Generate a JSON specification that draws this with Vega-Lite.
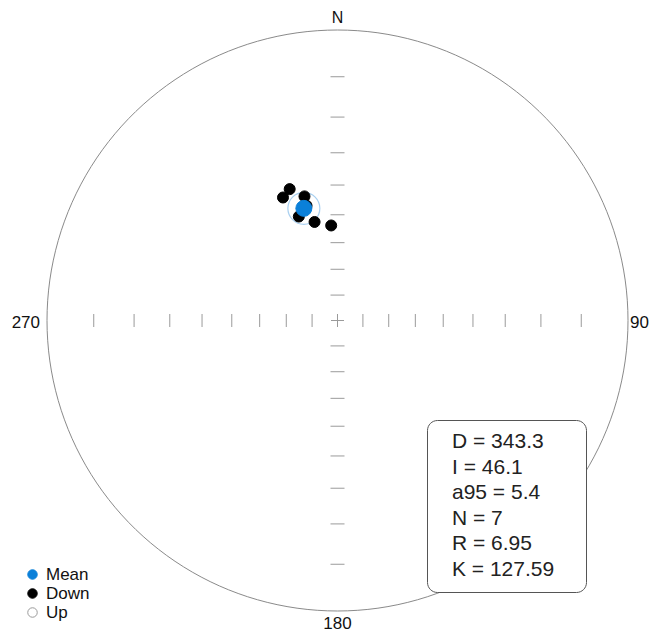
{
  "$schema": "https://vega.github.io/schema/vega-lite/v6.json",
  "width": 581,
  "height": 581,
  "autosize": {"type": "none"},
  "padding": {"left": 47, "top": 30, "right": 22, "bottom": 23},
  "background": "white",
  "config": {"view": {"stroke": null}, "font": "Liberation Sans"},
  "projection": {"type": "stereographic", "rotate": [0, -90, 0], "reflectY": true, "clipAngle": 90},
  "datasets": {
    "directions": [
      {"D": 340.0, "I": 38.6, "type": "Down"},
      {"D": 336.1, "I": 40.3, "type": "Down"},
      {"D": 345.1, "I": 42.3, "type": "Down"},
      {"D": 339.6, "I": 48.2, "type": "Down"},
      {"D": 346.9, "I": 51.6, "type": "Down"},
      {"D": 356.2, "I": 53.7, "type": "Down"},
      {"D": 344.9, "I": 45.5, "type": "Down"}
    ],
    "mean": [{"D": 343.3, "I": 46.1, "a95": 5.4, "type": "Mean"}],
    "ticks": [
      {"D": 0, "I": 10}, {"D": 0, "I": 20}, {"D": 0, "I": 30}, {"D": 0, "I": 40},
      {"D": 0, "I": 50}, {"D": 0, "I": 60}, {"D": 0, "I": 70}, {"D": 0, "I": 80},
      {"D": 180, "I": 10}, {"D": 180, "I": 20}, {"D": 180, "I": 30}, {"D": 180, "I": 40},
      {"D": 180, "I": 50}, {"D": 180, "I": 60}, {"D": 180, "I": 70}, {"D": 180, "I": 80},
      {"D": 90, "I": 10}, {"D": 90, "I": 20}, {"D": 90, "I": 30}, {"D": 90, "I": 40},
      {"D": 90, "I": 50}, {"D": 90, "I": 60}, {"D": 90, "I": 70}, {"D": 90, "I": 80},
      {"D": 270, "I": 10}, {"D": 270, "I": 20}, {"D": 270, "I": 30}, {"D": 270, "I": 40},
      {"D": 270, "I": 50}, {"D": 270, "I": 60}, {"D": 270, "I": 70}, {"D": 270, "I": 80}
    ],
    "center": [{"D": 0, "I": 90}],
    "labels": [
      {"D": 0, "I": 0, "label": "N"},
      {"D": 90, "I": 0, "label": "90"},
      {"D": 180, "I": 0, "label": "180"},
      {"D": 270, "I": 0, "label": "270"}
    ],
    "stats": [
      {"label": "D = 343.3"},
      {"label": "I = 46.1"},
      {"label": "a95 = 5.4"},
      {"label": "N = 7"},
      {"label": "R = 6.95"},
      {"label": "K = 127.59"}
    ]
  },
  "layer": [
    {
      "data": {"sphere": true},
      "mark": {"type": "geoshape", "filled": false, "stroke": "#8a8a8a", "strokeWidth": 1}
    },
    {
      "data": {"name": "ticks"},
      "transform": [{"filter": "datum.D == 0 || datum.D == 180"}],
      "mark": {"type": "point", "shape": "M-1,0L1,0", "size": 196, "filled": false, "stroke": "#9a9a9a", "strokeWidth": 1, "opacity": 1},
      "encoding": {
        "longitude": {"field": "D", "type": "quantitative"},
        "latitude": {"field": "I", "type": "quantitative"}
      }
    },
    {
      "data": {"name": "ticks"},
      "transform": [{"filter": "datum.D == 90 || datum.D == 270"}],
      "mark": {"type": "point", "shape": "M0,-1L0,1", "size": 169, "filled": false, "stroke": "#9a9a9a", "strokeWidth": 1, "opacity": 1},
      "encoding": {
        "longitude": {"field": "D", "type": "quantitative"},
        "latitude": {"field": "I", "type": "quantitative"}
      }
    },
    {
      "data": {"name": "center"},
      "mark": {"type": "point", "shape": "M-1,0L1,0M0,-1L0,1", "size": 169, "filled": false, "stroke": "#9a9a9a", "strokeWidth": 1, "opacity": 1},
      "encoding": {
        "longitude": {"field": "D", "type": "quantitative"},
        "latitude": {"field": "I", "type": "quantitative"}
      }
    },
    {
      "data": {"name": "mean"},
      "mark": {"type": "point", "shape": "circle", "size": 1024, "filled": false, "stroke": "#a9d0f0", "strokeWidth": 1.2, "opacity": 1},
      "encoding": {
        "longitude": {"field": "D", "type": "quantitative"},
        "latitude": {"field": "I", "type": "quantitative"}
      }
    },
    {
      "data": {"name": "directions"},
      "mark": {"type": "point", "shape": "circle", "size": 121, "filled": true, "opacity": 1, "strokeWidth": 1},
      "encoding": {
        "longitude": {"field": "D", "type": "quantitative"},
        "latitude": {"field": "I", "type": "quantitative"},
        "fill": {
          "field": "type", "type": "nominal",
          "scale": {"domain": ["Mean", "Down", "Up"], "range": ["#0b80d9", "#000000", "#ffffff"]},
          "legend": {"orient": "none", "legendX": -23, "legendY": 536, "title": null, "labelFontSize": 17, "labelColor": "#111", "symbolSize": 90, "symbolStrokeWidth": 1, "labelOffset": 5, "rowPadding": 1, "padding": 0, "symbolType": "circle"}
        },
        "stroke": {
          "field": "type", "type": "nominal",
          "scale": {"domain": ["Mean", "Down", "Up"], "range": ["#0b80d9", "#000000", "#9a9a9a"]},
          "legend": {"orient": "none", "legendX": -23, "legendY": 536, "title": null, "labelFontSize": 17, "labelColor": "#111", "symbolSize": 90, "symbolStrokeWidth": 1, "labelOffset": 5, "rowPadding": 1, "padding": 0, "symbolType": "circle"}
        }
      }
    },
    {
      "data": {"name": "mean"},
      "mark": {"type": "point", "shape": "circle", "size": 256, "filled": true, "opacity": 1, "strokeWidth": 1},
      "encoding": {
        "longitude": {"field": "D", "type": "quantitative"},
        "latitude": {"field": "I", "type": "quantitative"},
        "fill": {"field": "type", "type": "nominal"},
        "stroke": {"field": "type", "type": "nominal"}
      }
    },
    {
      "data": {"name": "labels"},
      "transform": [{"filter": "datum.label == 'N'"}],
      "mark": {"type": "text", "fontSize": 16, "color": "#111", "align": "center", "baseline": "middle", "dy": -12.5},
      "encoding": {
        "longitude": {"field": "D", "type": "quantitative"},
        "latitude": {"field": "I", "type": "quantitative"},
        "text": {"field": "label"}
      }
    },
    {
      "data": {"name": "labels"},
      "transform": [{"filter": "datum.label == '180'"}],
      "mark": {"type": "text", "fontSize": 17, "color": "#111", "align": "center", "baseline": "middle", "dy": 13},
      "encoding": {
        "longitude": {"field": "D", "type": "quantitative"},
        "latitude": {"field": "I", "type": "quantitative"},
        "text": {"field": "label"}
      }
    },
    {
      "data": {"name": "labels"},
      "transform": [{"filter": "datum.label == '270'"}],
      "mark": {"type": "text", "fontSize": 17, "color": "#111", "align": "right", "baseline": "middle", "dx": -7, "dy": 2},
      "encoding": {
        "longitude": {"field": "D", "type": "quantitative"},
        "latitude": {"field": "I", "type": "quantitative"},
        "text": {"field": "label"}
      }
    },
    {
      "data": {"name": "labels"},
      "transform": [{"filter": "datum.label == '90'"}],
      "mark": {"type": "text", "fontSize": 17, "color": "#111", "align": "left", "baseline": "middle", "dx": 2, "dy": 2},
      "encoding": {
        "longitude": {"field": "D", "type": "quantitative"},
        "latitude": {"field": "I", "type": "quantitative"},
        "text": {"field": "label"}
      }
    },
    {
      "data": {"name": "stats"},
      "mark": {"type": "point", "opacity": 0, "size": 0},
      "encoding": {
        "shape": {
          "field": "label", "type": "nominal", "sort": null,
          "legend": {"orient": "none", "legendX": 380, "legendY": 390, "title": " ", "titleOrient": "right", "titleFontSize": 40, "titlePadding": 20, "padding": 11.5, "strokeColor": "#555", "fillColor": "white", "cornerRadius": 10, "labelFontSize": 21, "labelColor": "#222", "labelLimit": 400, "rowPadding": 3.6, "symbolSize": 4, "symbolOpacity": 0, "labelOffset": -7.5}
        }
      }
    }
  ]
}
